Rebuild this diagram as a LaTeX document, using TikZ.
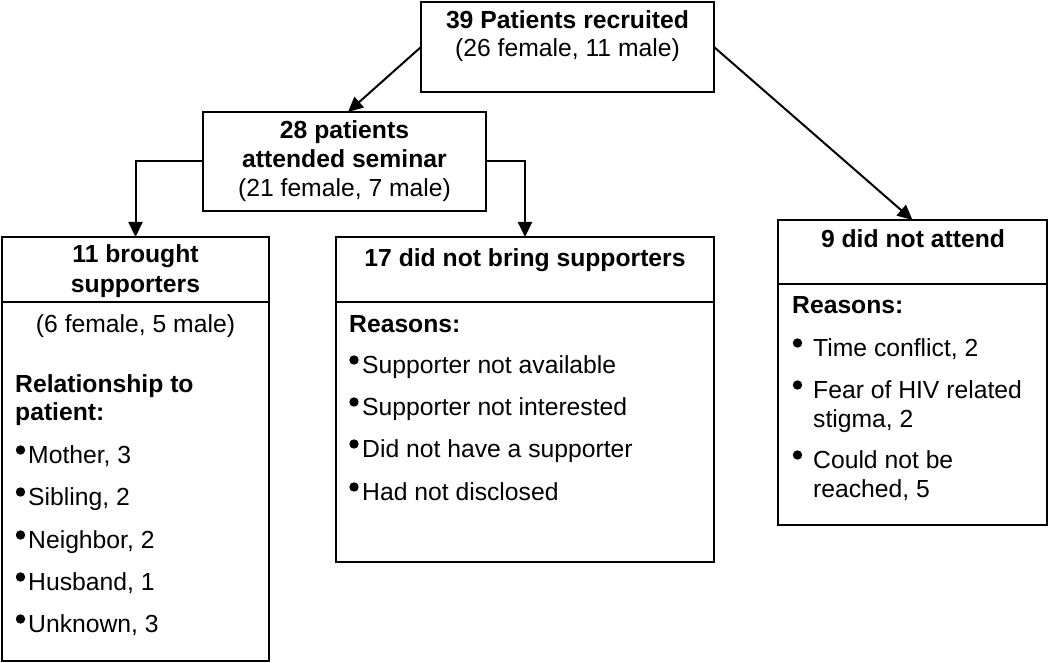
\documentclass[tikz,border=0pt]{standalone}
\usepackage{fontspec}
\setmainfont{Liberation Sans}
\usetikzlibrary{arrows.meta}
\begin{document}
\begin{tikzpicture}[x=1pt,y=-1pt,
  box/.style={draw, line width=2pt, inner sep=0pt, outer sep=0pt, anchor=north west},
  divider/.style={line width=2pt},
  conn/.style={line width=2pt, -{Triangle[length=15pt,width=14pt]}},
  txt/.style={inner sep=0pt, anchor=base, font=\fontsize{24.7}{28.5}\selectfont},
  btxt/.style={txt, font=\fontsize{24.7}{28.5}\selectfont\bfseries},
  ltxt/.style={txt, anchor=base west},
  lbtxt/.style={btxt, anchor=base west},
  bul/.style={fill=black}
]
\useasboundingbox (0,0) rectangle (1050,663);

% boxes
\node[box, minimum width=293pt, minimum height=90pt] (top) at (421,2) {};
\node[box, minimum width=283pt, minimum height=99pt] (b28) at (203,112) {};
\node[box, minimum width=267pt, minimum height=424pt] (b11) at (2,237) {};
\node[box, minimum width=378pt, minimum height=325pt] (b17) at (336,237) {};
\node[box, minimum width=269pt, minimum height=305pt] (b9) at (778,220) {};

% dividers
\draw[divider] (b11.west |- 0,302) -- (b11.east |- 0,302);
\draw[divider] (b17.west |- 0,302) -- (b17.east |- 0,302);
\draw[divider] (b9.west |- 0,284) -- (b9.east |- 0,284);

% connectors
\draw[conn] (top.west) -- (b28.north -| 348,0);
\draw[conn] (top.east) -- (b9.north);
\draw[conn] (b28.west) -| (b11.north);
\draw[conn] (b28.east) -| (b17.north);

% top box
\node[btxt] (t1) at (567.5,29) {39 Patients recruited};
\node[txt] (t2) at (567.5,57) {(26 female, 11 male)};

% 28 box
\node[btxt] (t3) at (344.5,139) {28 patients};
\node[btxt] (t4) at (344.5,168) {attended seminar};
\node[txt] (t5) at (344.5,197) {(21 female, 7 male)};

% 11 box
\node[btxt] (t6) at (135.5,263) {11 brought};
\node[btxt] (t7) at (135.5,292) {supporters};
\node[txt] (t8) at (135.5,332) {(6 female, 5 male)};
\node[lbtxt] (t9) at (15,392) {Relationship to};
\node[lbtxt] (t10) at (15,420) {patient:};
\node[ltxt] (m1) at (28,463) {Mother, 3};
\node[ltxt] (m2) at (28,505) {Sibling, 2};
\node[ltxt] (m3) at (28,548) {Neighbor, 2};
\node[ltxt] (m4) at (28,590) {Husband, 1};
\node[ltxt] (m5) at (28,632) {Unknown, 3};
\foreach \yy in {463,505,548,590,632}
  \fill[bul] (20.5,\yy-13) circle[radius=4.7pt];

% 17 box
\node[btxt] (t11) at (525,267) {17 did not bring supporters};
\node[lbtxt] (t12) at (349,332) {Reasons:};
\node[ltxt] (r1) at (362,373) {Supporter not available};
\node[ltxt] (r2) at (362,415) {Supporter not interested};
\node[ltxt] (r3) at (362,457) {Did not have a supporter};
\node[ltxt] (r4) at (362,500) {Had not disclosed};
\foreach \yy in {373,415,457,500}
  \fill[bul] (354,\yy-13) circle[radius=4.7pt];

% 9 box
\node[btxt] (t13) at (913,248) {9 did not attend};
\node[lbtxt] (t14) at (792,313) {Reasons:};
\node[ltxt] (n1) at (813,356) {Time conflict, 2};
\node[ltxt] (n2) at (813,398) {Fear of HIV related};
\node[ltxt] (n3) at (813,427) {stigma, 2};
\node[ltxt] (n4) at (813,468) {Could not be};
\node[ltxt] (n5) at (813,497) {reached, 5};
\foreach \yy in {356,398,468}
  \fill[bul] (797.5,\yy-13) circle[radius=4.7pt];
\end{tikzpicture}
\end{document}
